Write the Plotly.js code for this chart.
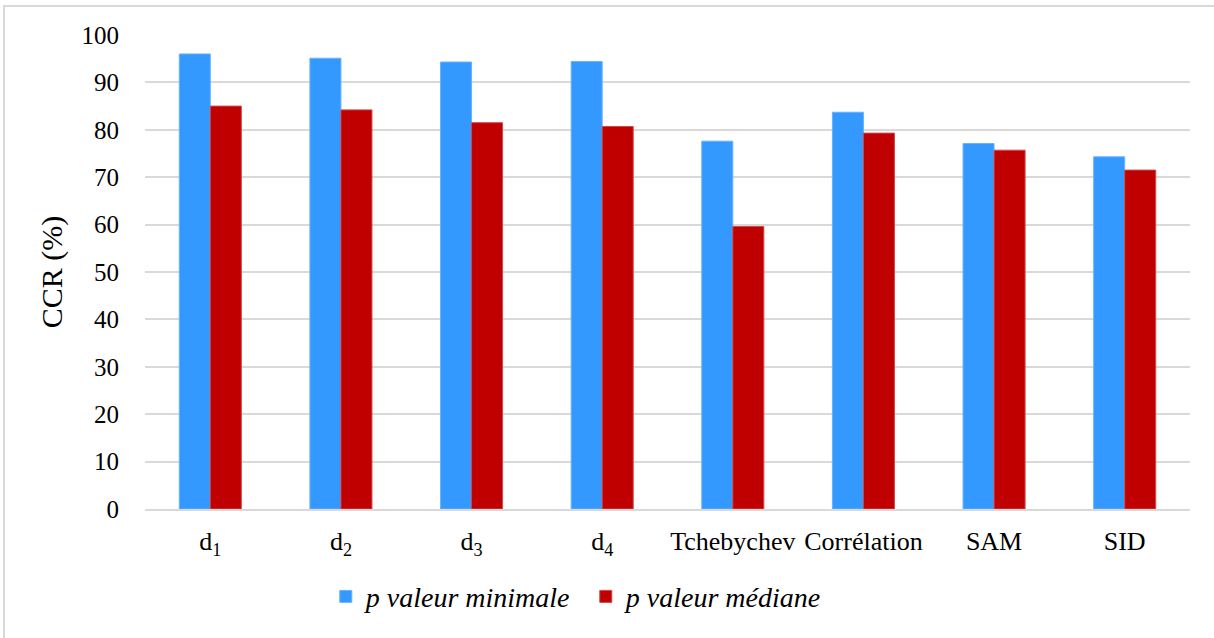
<!DOCTYPE html>
<html>
<head>
<meta charset="utf-8">
<script src="https://cdn.plot.ly/plotly-3.0.1.min.js"></script>
<style>
  html, body { margin: 0; padding: 0; background: #fff; }
  #wrap { position: relative; width: 1214px; height: 638px; }
  #chart { width: 1214px; height: 638px; }
  #frame { position: absolute; left: 3px; top: 5px; width: 1300px; height: 700px;
           border-left: 2px solid #d9d9d9; border-top: 2px solid #d9d9d9; pointer-events: none; }
</style>
</head>
<body>
<div id="wrap">
  <div id="chart"></div>
  <div id="frame"></div>
</div>
<script>
const categories = ['d<sub>1</sub>', 'd<sub>2</sub>', 'd<sub>3</sub>', 'd<sub>4</sub>', 'Tchebychev', 'Corrélation', 'SAM', 'SID'];
const pMinimale = [96.0, 95.1, 94.3, 94.4, 77.6, 83.7, 77.1, 74.3];
const pMediane  = [85.0, 84.2, 81.5, 80.7, 59.6, 79.3, 75.7, 71.5];
const seriesNames = ['<i>p valeur minimale</i>', '<i>p valeur médiane</i>'];
const yTitle = 'CCR (%)';

const serif = 'Liberation Serif, Times New Roman, serif';

const traces = [
  { type: 'bar', x: categories, y: pMinimale, name: seriesNames[0],
    marker: { color: '#3399FF', line: { color: '#66B2FF', width: 1 } }, hoverinfo: 'x+y' },
  { type: 'bar', x: categories, y: pMediane, name: seriesNames[1],
    marker: { color: '#C00000', line: { color: '#D04848', width: 1 } }, hoverinfo: 'x+y' }
];

const layout = {
  width: 1214, height: 638,
  margin: { l: 145, r: 24, t: 35, b: 129 },
  paper_bgcolor: '#ffffff', plot_bgcolor: '#ffffff',
  barmode: 'group', bargap: 0.525, bargroupgap: 0,
  font: { family: serif, color: '#000000' },
  xaxis: {
    type: 'category', automargin: false,
    tickfont: { family: serif, size: 26, color: '#000' },
    showgrid: false, showline: true, linecolor: '#d9d9d9', linewidth: 2,
    ticks: '', ticklabelstandoff: 8, fixedrange: true
  },
  yaxis: {
    range: [0, 100], dtick: 10, tick0: 0, automargin: false,
    tickfont: { family: serif, size: 25, color: '#000' },
    showgrid: true, gridcolor: '#d9d9d9', gridwidth: 1.5,
    zeroline: false, showline: false,
    ticks: 'outside', ticklen: 20, tickcolor: 'rgba(0,0,0,0)',
    title: { text: yTitle, font: { family: serif, size: 30, color: '#000' }, standoff: 10 },
    fixedrange: true
  },
  showlegend: true,
  legend: {
    orientation: 'h', x: 0.173, xanchor: 'left', y: -0.185, yanchor: 'middle',
    entrywidth: 215, entrywidthmode: 'pixels',
    font: { family: serif, size: 28, color: '#000' },
    bgcolor: 'rgba(0,0,0,0)', itemclick: false, itemdoubleclick: false
  }
};

Plotly.newPlot('chart', traces, layout, { displayModeBar: false, responsive: false });
</script>
</body>
</html>
